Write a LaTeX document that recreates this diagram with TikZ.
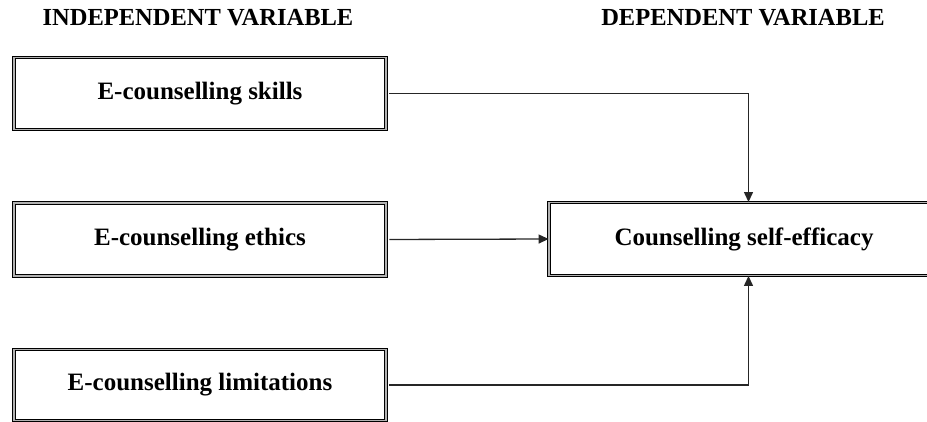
\documentclass[tikz,border=0pt]{standalone}
\usepackage{fontspec}
\setmainfont{Liberation Serif}
\usetikzlibrary{arrows.meta}
\begin{document}
\begin{tikzpicture}[x=1pt,y=-1pt,
  varbox/.style={draw=black, line width=0.9pt, double=gray!60, double distance=1.3pt,
    minimum width=372pt, inner sep=0pt, font=\fontsize{25}{28}\selectfont\bfseries},
  heading/.style={font=\fontsize{24.5}{28}\selectfont\bfseries},
  link/.style={draw=black!85, line width=1.3pt, -{Triangle[length=10pt,width=9pt]}}]
  \useasboundingbox (0,0) rectangle (927,422);
  \clip (0,0) rectangle (927,422);

  % column headings
  \node[heading] (hind) at (198,18) {INDEPENDENT VARIABLE};
  \node[heading] (hdep) at (743,18) {DEPENDENT VARIABLE};

  % independent variables
  \node[varbox, minimum height=72pt] (skills) at (200,93.5) {E-counselling skills};
  \node[varbox, minimum height=73pt] (ethics) at (200,239.5) {E-counselling ethics};
  \node[varbox, minimum height=71pt] (limits) at (200,385) {E-counselling limitations};

  % dependent variable (runs past the right edge)
  \node[varbox, minimum width=390pt, minimum height=73pt] (selfeff) at (744,239) {Counselling self-efficacy};

  % column where the vertical connectors meet the outcome box
  \coordinate (drop) at (748.5,0);

  % connectors
  \draw[link, shorten <=3pt] (skills.east) -| (drop |- selfeff.north);
  \draw[link, shorten <=3pt] (ethics.east) -- (selfeff.west);
  \draw[link, shorten <=3pt] (limits.east) -| (drop |- selfeff.south);
\end{tikzpicture}
\end{document}
